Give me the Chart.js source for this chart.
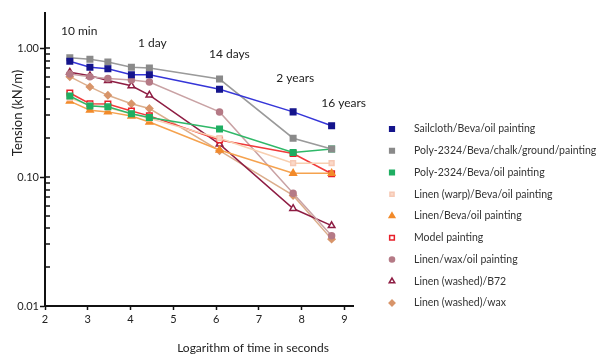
<!DOCTYPE html>
<html>
<head>
<meta charset="utf-8">
<script src="https://cdn.jsdelivr.net/npm/chart.js@4.4.0/dist/chart.umd.min.js"></script>
<style>
  html, body { margin: 0; padding: 0; background: #fff; }
</style>
</head>
<body>
<canvas id="tension-chart" width="603" height="357"></canvas>
<script>
// **********************************************
// Data
// log10 of time in seconds for each measurement
const logTimes = [2.58, 3.05, 3.47, 4.02, 4.44, 6.08, 7.80, 8.70];

const sailcloth   = [0.79, 0.71, 0.69, 0.62, 0.62, 0.48, 0.32, 0.25];
const polyChalk   = [0.84, 0.82, 0.78, 0.71, 0.70, 0.575, 0.20, 0.165];
const polyOil     = [0.425, 0.355, 0.35, 0.31, 0.29, 0.236, 0.155, 0.165];
const linenWarp   = [0.41, 0.36, 0.345, 0.31, 0.285, 0.20, 0.128, 0.128];
const linenBeva   = [0.388, 0.33, 0.32, 0.297, 0.267, 0.162, 0.107, 0.107];
const modelPaint  = [0.448, 0.37, 0.368, 0.325, 0.298, 0.194, 0.152, 0.106];
const linenWaxOil = [0.63, 0.60, 0.58, 0.565, 0.545, 0.32, 0.075, 0.035];
const washedB72   = [0.65, 0.61, 0.56, 0.51, 0.432, 0.18, 0.057, 0.042];
const washedWax   = [0.60, 0.50, 0.43, 0.37, 0.34, 0.16, 0.072, 0.033];

const seriesNames = [
    'Sailcloth/Beva/oil painting',
    'Poly-2324/Beva/chalk/ground/painting',
    'Poly-2324/Beva/oil painting',
    'Linen (warp)/Beva/oil painting',
    'Linen/Beva/oil painting',
    'Model painting',
    'Linen/wax/oil painting',
    'Linen (washed)/B72',
    'Linen (washed)/wax'
];

// time markers written above the curves
const timeLabels = ['10 min', '1 day', '14 days', '2 years', '16 years'];
const timeLabelX = [2.80, 4.51, 6.31, 7.85, 8.98];
const timeLabelY = [1.355, 1.09, 0.90, 0.585, 0.375];

const yMajorTicks = [0.01, 0.1, 1];

// **********************************************
// Styles
const styles = [
    {line: '#3535d8', fill: '#14148c', border: '#14148c', shape: 'rect', r: 3.9},
    {line: '#9a9a9a', fill: '#8a8a8a', border: '#8a8a8a', shape: 'rect', r: 3.9},
    {line: '#2fb868', fill: '#1fae62', border: '#1fae62', shape: 'rect', r: 3.9},
    {line: '#f8cfb0', fill: '#fbd9c8', border: '#f6c8b4', shape: 'rect', r: 3.4},
    {line: '#f5a24e', fill: '#f28a2a', border: '#f28a2a', shape: 'triangle', r: 3.8},
    {line: '#f03a3a', fill: '#ffffff', border: '#e8202a', shape: 'rect', r: 3.9},
    {line: '#c9a2a4', fill: '#b57a86', border: '#b57a86', shape: 'circle', r: 3},
    {line: '#8e1d43', fill: '#ffffff', border: '#8e1d43', shape: 'triangle', r: 3.8},
    {line: '#dcae8c', fill: '#d8956a', border: '#d8956a', shape: 'rectRot', r: 3.4}
];

const seriesValues = [sailcloth, polyChalk, polyOil, linenWarp, linenBeva,
    modelPaint, linenWaxOil, washedB72, washedWax];

let datasets = seriesValues.map((vals, i) => ({
    label: seriesNames[i],
    data: vals.map((v, j) => ({x: logTimes[j], y: v})),
    borderColor: styles[i].line,
    borderWidth: 1.5,
    backgroundColor: styles[i].fill,
    pointStyle: styles[i].shape,
    pointRadius: styles[i].r,
    pointBackgroundColor: styles[i].fill,
    pointBorderColor: styles[i].border,
    pointBorderWidth: 1.5,
    tension: 0
}));

// **********************************************
// Extra drawing: inner y ticks, time labels, axis titles, legend
const extras = {
    id: 'extras',
    afterDraw(chart) {
        const {ctx, scales: {x, y}} = chart;
        ctx.save();

        // minor ticks point into the plot
        ctx.strokeStyle = '#111';
        ctx.lineWidth = 1.5;
        y.ticks.forEach(t => {
            const py = Math.round(y.getPixelForValue(t.value));
            ctx.beginPath();
            ctx.moveTo(x.left, py);
            ctx.lineTo(x.left + 5, py);
            ctx.stroke();
        });

        ctx.fillStyle = '#222';
        ctx.textAlign = 'center';
        ctx.textBaseline = 'middle';
        ctx.font = '12px Lato';
        timeLabels.forEach((txt, i) => {
            ctx.fillText(txt, x.getPixelForValue(timeLabelX[i]), y.getPixelForValue(timeLabelY[i]));
        });

        // axis titles
        ctx.font = '12px Lato';
        ctx.fillText('Logarithm of time in seconds', 253, 348);
        ctx.save();
        ctx.translate(18, 113);
        ctx.rotate(-Math.PI / 2);
        ctx.font = '13px Lato';
        ctx.fillText('Tension (kN/m)', 0, 0);
        ctx.restore();

        // legend
        ctx.textAlign = 'left';
        ctx.font = '10.5px Lato';
        datasets.forEach((ds, i) => {
            const ly = 129 + i * 21.75;
            const st = styles[i];
            ctx.fillStyle = st.fill;
            ctx.strokeStyle = st.border;
            ctx.lineWidth = 1.5;
            Chart.helpers.drawPoint(ctx, {pointStyle: st.shape, radius: st.r * 0.85, rotation: 0, borderWidth: 1.5}, 392, ly);
            ctx.fillStyle = '#333';
            ctx.fillText(ds.label, 414, ly);
        });

        ctx.restore();
    }
};

// **********************************************
// Chart
let ctx = document.getElementById('tension-chart').getContext('2d');

let tensionChart = new Chart(ctx, {
    type: 'line',
    data: {datasets: datasets},
    plugins: [extras],
    options: {
        responsive: false,
        animation: false,
        layout: {padding: {top: 13, right: 250, bottom: 0, left: 0}},
        plugins: {
            legend: {display: false},
            tooltip: {enabled: false}
        },
        scales: {
            x: {
                type: 'linear',
                min: 2,
                max: 9.2,
                afterBuildTicks: (scale) => {
                    scale.ticks = [2, 3, 4, 5, 6, 7, 8, 9].map(v => ({value: v}));
                },
                afterFit: (scale) => { scale.height = 51; },
                border: {color: '#111', width: 2},
                grid: {drawOnChartArea: false, tickLength: 4, tickWidth: 1.5, tickColor: '#111'},
                ticks: {color: '#222', font: {family: 'Lato', size: 11}, padding: 3}
            },
            y: {
                type: 'logarithmic',
                min: 0.01,
                max: 1.87,
                afterBuildTicks: (scale) => {
                    let t = [];
                    [0.01, 0.1].forEach(d => {
                        for (let k = 1; k <= 9; k++) t.push({value: +(d * k).toFixed(3)});
                    });
                    t.push({value: 1});
                    scale.ticks = t;
                },
                afterFit: (scale) => { scale.width = 45; },
                border: {color: '#111', width: 2},
                grid: {
                    drawOnChartArea: false,
                    tickLength: 5,
                    tickWidth: 1.5,
                    tickColor: (c) => yMajorTicks.includes(c.tick.value) ? '#111' : 'rgba(0,0,0,0)'
                },
                ticks: {
                    color: '#222',
                    font: {family: 'Lato', size: 11},
                    padding: 1,
                    autoSkip: false,
                    callback: (v) => yMajorTicks.includes(v) ? v.toFixed(2) : ''
                }
            }
        }
    }
});
</script>
</body>
</html>
